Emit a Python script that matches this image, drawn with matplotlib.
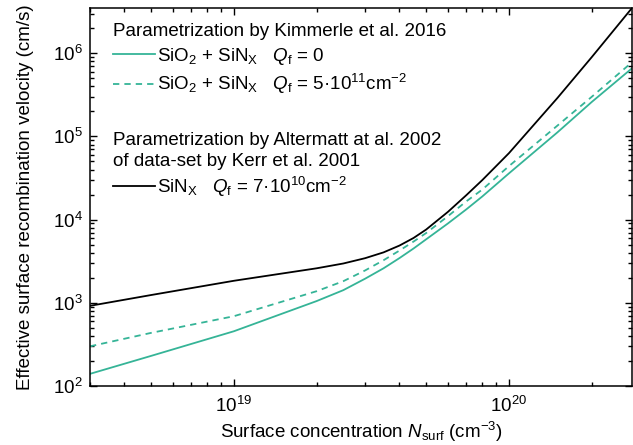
import matplotlib
matplotlib.use("Agg")
import matplotlib.pyplot as plt
from matplotlib.lines import Line2D
from matplotlib.ticker import LogLocator, NullFormatter

plt.rcParams['font.family'] = ['Liberation Sans', 'DejaVu Sans']
plt.rcParams['mathtext.fontset'] = 'custom'
plt.rcParams['mathtext.rm'] = 'Liberation Sans'
plt.rcParams['mathtext.it'] = 'Liberation Sans:italic'
plt.rcParams['font.size'] = 13.5

# surface concentration (cm^-3)
n_surf = [3e18, 5e18, 1e19, 2e19, 2.5e19, 3e19, 3.5e19, 4e19, 4.5e19, 5e19,
          6e19, 7e19, 8e19, 1e20, 1.5e20, 2e20, 2.8e20]
# effective SRV (cm/s)
s_kim_q0 = [140, 230, 455, 1050, 1420, 1950, 2600, 3450, 4500, 5800,
            9000, 13300, 19000, 36000, 112000, 260000, 660000]
s_kim_q5 = [300, 435, 690, 1380, 1820, 2450, 3250, 4250, 5450, 6900,
            11000, 16600, 23000, 44000, 135000, 300000, 780000]
s_alt = [920, 1240, 1840, 2600, 2970, 3440, 4040, 4880, 6020, 7600,
         12400, 19700, 29900, 63000, 290000, 900000, 3500000]

teal = '#35b497'
lbl_q0 = r'SiO$_2$ + SiN$_\mathregular{X}$   $Q_\mathregular{f}$ = 0'
lbl_q5 = r'SiO$_2$ + SiN$_\mathregular{X}$   $Q_\mathregular{f}$ = 5·10$^{11}$cm$^{-2}$'
lbl_alt = r'SiN$_\mathregular{X}$   $Q_\mathregular{f}$ = 7·10$^{10}$cm$^{-2}$'

fig = plt.figure(figsize=(6.33, 4.45), dpi=100)
ax = fig.add_axes([90 / 633, 1 - 386 / 445, 542 / 633, 378 / 445])

ax.plot(n_surf, s_kim_q0, color=teal, lw=1.3)
ax.plot(n_surf, s_kim_q5, color=teal, lw=1.3, dashes=(3.5, 2.8))
ax.plot(n_surf, s_alt, color='black', lw=1.3)

ax.set_xscale('log')
ax.set_yscale('log')
ax.set_xlim(3e18, 2.8e20)
ax.set_ylim(1e2, 3.5e6)

ax.xaxis.set_minor_locator(LogLocator(base=10, subs=range(2, 10)))
ax.yaxis.set_minor_locator(LogLocator(base=10, subs=range(2, 10)))
ax.xaxis.set_minor_formatter(NullFormatter())
ax.yaxis.set_minor_formatter(NullFormatter())
ax.tick_params(which='both', direction='in', top=True, right=True, width=1)
ax.tick_params(which='major', length=5, pad=5)
ax.tick_params(axis='x', which='major', pad=7)
ax.tick_params(which='minor', length=3)
for sp in ax.spines.values():
    sp.set_linewidth(1.1)

ax.set_xlabel(r'Surface concentration $N_\mathregular{surf}$ (cm$^{-3}$)', labelpad=3)
ax.set_ylabel('Effective surface recombination velocity (cm/s)', labelpad=14)

h_q0 = Line2D([], [], color=teal, lw=1.3)
h_q5 = Line2D([], [], color=teal, lw=1.3, dashes=(3.5, 2.8))
h_alt = Line2D([], [], color='black', lw=1.3)

leg_kw = dict(fontsize=13.5, title_fontsize=13.5, alignment='left',
              frameon=False, loc='upper left', handlelength=2.2,
              handletextpad=0.15, borderaxespad=0.0, borderpad=0.0)
leg1 = ax.legend([h_q0, h_q5], [lbl_q0, lbl_q5],
                 title='Parametrization by Kimmerle et al. 2016',
                 bbox_to_anchor=(0.043, 0.96), labelspacing=0.3, **leg_kw)
ax.add_artist(leg1)
leg2 = ax.legend([h_alt], [lbl_alt],
                 title='Parametrization by Altermatt at al. 2002\nof data-set by Kerr et al. 2001',
                 bbox_to_anchor=(0.043, 0.672), labelspacing=0.25, **leg_kw)
leg2.get_title().set_linespacing(1.3)

fig.savefig('out.png', dpi=100)
